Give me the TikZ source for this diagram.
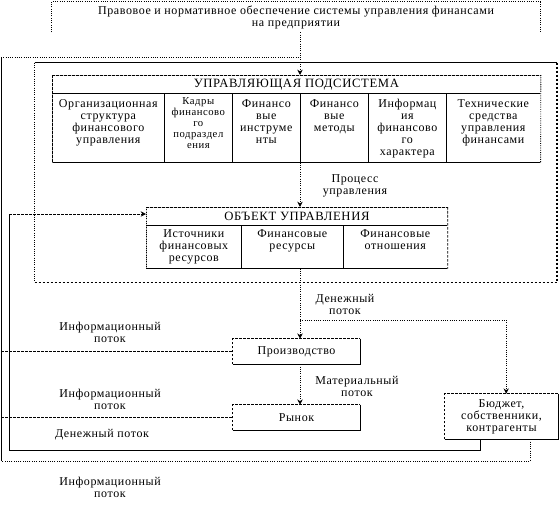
\documentclass[tikz,border=0pt]{standalone}
\usepackage{fontspec}
\setmainfont{Liberation Serif}[LetterSpace=5]
\usetikzlibrary{arrows.meta}
\newcommand\myfs{\fontsize{9}{9}\selectfont}
\newcommand\mysmallfs{\fontsize{8}{8.25}\selectfont}
\newcommand\myhfs{\fontsize{9.5}{10}\selectfont}
\begin{document}
\begin{tikzpicture}[x=0.75pt,y=-0.75pt,
  lbl/.style={font=\myfs, align=center, inner sep=0pt},
  celltext/.style={font=\myfs, align=center, inner sep=0pt, anchor=north},
  cellbox/.style={draw, line width=0.5pt, inner sep=0pt, anchor=north west},
  hdr/.style={draw=gray, line width=0.6pt, inner sep=0pt, anchor=north west, font=\myhfs},
  plainbox/.style={inner sep=0pt, font=\myfs, align=center},
  dotline/.style={densely dotted, line width=0.7pt},
  dashline/.style={dash pattern=on 2pt off 1pt, line width=0.6pt},
  solidline/.style={line width=0.6pt},
  arr/.style={-{Stealth[length=4pt,width=4pt]}}
]
\useasboundingbox (0,0) rectangle (560,519);

% top box
\node[plainbox, minimum width=366pt, minimum height=22.5pt] (topbox) at (296,17)
  {Правовое и нормативное обеспечение системы управления финансами\\на предприятии};
\draw[dotline] (topbox.south west) -- (topbox.north west) -- (topbox.north east) -- (topbox.south east);

% frame B
\node[inner sep=0pt, minimum width=391.5pt, minimum height=164.25pt] (frameB) at (296,172.5) {};
\draw[solidline] (frameB.north west) -- (frameB.north east);
\draw[dotline] (frameB.north west) -- (frameB.south west);
\draw[dashline] (frameB.south west) -- (frameB.south east);
\draw[dashline, line width=1.2pt] (frameB.north east) -- (frameB.south east);

% table 1
\node[hdr, minimum width=366pt, minimum height=13.5pt] (h1) at (52,75) {УПРАВЛЯЮЩАЯ ПОДСИСТЕМА};
\node[cellbox, minimum width=84pt, minimum height=51.75pt] (c11) at (52,93) {};
\node[cellbox, minimum width=51pt, minimum height=51.75pt] (c12) at (164,93) {};
\node[cellbox, minimum width=51pt, minimum height=51.75pt] (c13) at (232,93) {};
\node[cellbox, minimum width=51pt, minimum height=51.75pt] (c14) at (300,93) {};
\node[cellbox, minimum width=58.5pt, minimum height=51.75pt] (c15) at (368,93) {};
\node[cellbox, minimum width=70.5pt, minimum height=51.75pt] (c16) at (446,93) {};
\draw[white, line width=0.8pt] (h1.north west) -- (h1.north east) (h1.north west) -- (c11.south west) (h1.north east) -- (c16.south east);
\draw[dashline] (h1.north west) -- (h1.north east);
\draw[dashline] (h1.north west) -- (c11.south west);
\draw[dotline] (h1.north east) -- (c16.south east);
\node[celltext] (t11) at ([yshift=-4.5pt]c11.north) {Организационная\\структура\\финансового\\управления};
\node[celltext, font=\mysmallfs] (t12) at ([yshift=-3pt]c12.north) {Кадры\\финансово\\го\\подраздел\\ения};
\node[celltext] (t13) at ([yshift=-4.5pt]c13.north) {Финансо\\вые\\инструме\\нты};
\node[celltext] (t14) at ([yshift=-4.5pt]c14.north) {Финансо\\вые\\методы};
\node[celltext] (t15) at ([yshift=-4.5pt]c15.north) {Информац\\ия\\финансово\\го\\характера};
\node[celltext] (t16) at ([yshift=-4.5pt]c16.north) {Технические\\средства\\управления\\финансами};

% table 2
\node[hdr, minimum width=225.75pt, minimum height=13.5pt] (h2) at (146,207) {ОБЪЕКТ УПРАВЛЕНИЯ};
\node[cellbox, minimum width=71.25pt, minimum height=32.25pt] (c21) at (146,225) {};
\node[cellbox, minimum width=76.5pt, minimum height=32.25pt] (c22) at (241,225) {};
\node[cellbox, minimum width=78pt, minimum height=32.25pt] (c23) at (343,225) {};
\draw[white, line width=0.8pt] (h2.north west) -- (h2.north east) (h2.north west) -- (c21.south west) (h2.north east) -- (c23.south east);
\draw[dashline] (h2.north west) -- (h2.north east);
\draw[dotline] (h2.north west) -- (c21.south west);
\draw[dashline] (h2.north east) -- (c23.south east);
\node[celltext] (t21) at ([yshift=-3.5pt]c21.north) {Источники\\финансовых\\ресурсов};
\node[celltext] (t22) at ([yshift=-3.5pt]c22.north) {Финансовые\\ресурсы};
\node[celltext] (t23) at ([yshift=-3.5pt]c23.north) {Финансовые\\отношения};

% lower boxes
\node[plainbox, minimum width=95.25pt, minimum height=18.75pt] (prod) at (296.5,351.5) {Производство};
\node[plainbox, minimum width=95.25pt, minimum height=18.75pt] (market) at (296.5,417.5) {Рынок};
\node[plainbox, minimum width=84.75pt, minimum height=33.75pt] (budget) at (501.5,416.5) {Бюджет,\\собственники,\\контрагенты};
\foreach \b in {prod,market,budget}{
  \draw[dashline] (\b.south west) -- (\b.north west) -- (\b.north east);
  \draw[solidline] (\b.north east) -- (\b.south east) -- (\b.south west);
}

% coordinates of loops
\coordinate (oTL) at (1,57);
\coordinate (oBL) at (1,461);
\coordinate (oBR) at (530,461);
\coordinate (iTL) at (9,214);
\coordinate (iBL) at (9,450);
\coordinate (iBR) at (480,450);
\coordinate (br) at (300,320);

% connectors
\draw[dotline, arr] (topbox.south -| c14.north west) -- (h1.north -| c14.north west);
\draw[dotline, arr] (c14.south west) -- (h2.north -| c14.south west);
\draw[dotline, arr] (c14.south west |- c22.south) -- (c14.south west |- prod.north);
\draw[dotline, arr] (br) -| ([xshift=3.5pt]budget.north);
\draw[dotline, arr] (c14.south west |- prod.south) -- (c14.south west |- market.north);
\draw[dashline] (oTL |- prod.west) -- (prod.west);
\draw[dashline] (oTL |- market.west) -- (market.west);
\draw[solidline] (budget.south -| iBR) -- (iBR) -- (iBL) -- (iTL);
\draw[dashline, arr] (iTL) -- (iTL -| h2.west);
\draw[dotline] (budget.south -| oBR) -- (oBR) -- (oBL);
\draw[solidline] (oBL) -- (oTL);
\draw[dotline] (oTL) -- (oTL -| c14.north west);

% labels
\node[lbl] (lproc) at (355,186) {Процесс\\управления};
\node[lbl] (lmoney1) at (345,304) {Денежный\\поток};
\node[lbl] (linfo1) at (110,332) {Информационный\\поток};
\node[lbl] (lmat) at (357,386.5) {Материальный\\поток};
\node[lbl] (linfo2) at (110,399) {Информационный\\поток};
\node[lbl] (lmoney2) at (102,435) {Денежный поток};
\node[lbl] (linfo3) at (110,487.5) {Информационный\\поток};
\end{tikzpicture}
\end{document}
